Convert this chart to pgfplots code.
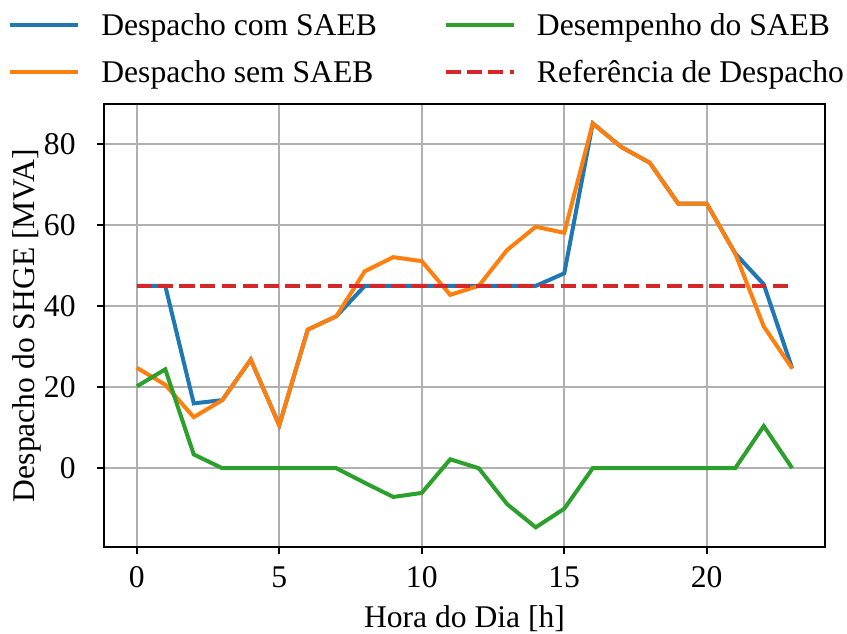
\documentclass[border=0pt]{standalone}
\usepackage{fontspec}
\setmainfont{Liberation Serif}
\usepackage{pgfplots}
\usepackage{pgfplotstable}
\pgfplotsset{compat=1.18}
\definecolor{cblue}{HTML}{1F77B4}
\definecolor{corange}{HTML}{FF7F0E}
\definecolor{cgreen}{HTML}{2CA02C}
\definecolor{cred}{HTML}{D62728}
\definecolor{cgrid}{HTML}{B0B0B0}

\pgfplotstableread{
h com sem des ref
0 45.0 24.8 20.2 45
1 45.0 20.6 24.4 45
2 16.0 12.6 3.4 45
3 16.8 16.8 0 45
4 26.8 26.8 0 45
5 10.6 10.6 0 45
6 34.2 34.2 0 45
7 37.5 37.5 0 45
8 45.0 48.6 -3.6 45
9 45.0 52.1 -7.1 45
10 45.0 51.1 -6.1 45
11 45.0 42.8 2.2 45
12 45.0 45.0 0 45
13 45.0 53.9 -8.9 45
14 45.0 59.6 -14.6 45
15 48.1 58.1 -10.0 45
16 85.1 85.1 0 45
17 79.3 79.3 0 45
18 75.4 75.4 0 45
19 65.3 65.3 0 45
20 65.3 65.3 0 45
21 53.0 53.0 0 45
22 45.4 35.0 10.4 45
23 24.6 24.6 0 45
}\data

\begin{document}
\fontsize{15.8}{19}\selectfont
\begin{tikzpicture}
\useasboundingbox (-52pt,-43pt) rectangle (371.5pt,273.5pt);
\begin{axis}[
  at={(0pt,0pt)}, anchor=south west,
  scale only axis, width=360.5pt, height=221.5pt,
  xmin=-1.15, xmax=24.15, ymin=-19.45, ymax=89.9,
  xtick={0,5,10,15,20}, ytick={0,20,40,60,80},
  /pgf/number format/assume math mode=true,
  tick align=outside, major tick length=3.5pt,
  tick style={black, line width=0.8pt},
  xtick pos=bottom, ytick pos=left,
  axis line style={black, line width=1pt},
  grid=major, major grid style={cgrid, line width=1pt},
  xticklabel style={inner sep=0pt, anchor=north, yshift=-6pt},
  yticklabel style={inner sep=0pt, anchor=east, xshift=-10.5pt},
  xlabel={Hora do Dia [h]},
  ylabel={Despacho do SHGE [MVA]},
  xlabel style={at={(axis description cs:0.5,0)}, anchor=base, yshift=-40pt, inner sep=0pt},
  ylabel style={at={(axis description cs:0,0.5)}, anchor=base, yshift=34.5pt, inner sep=0pt},
  legend columns=2,
  legend image code/.code={\draw[#1] (0pt,0pt) -- (34pt,0pt);},
  legend style={draw=none, fill=none, inner sep=0pt, at={(-0.1332,1.2099)}, anchor=north west,
    cells={anchor=west}, column sep=10.5pt, row sep=9.8pt,
    /tikz/every even column/.append style={column sep=33.5pt},
    nodes={inner sep=0pt, text height=12pt, text depth=1.6pt}},
]
\addlegendimage{cblue, line width=2pt}
\addlegendentry{Despacho com SAEB}
\addlegendimage{cgreen, line width=2pt}
\addlegendentry{Desempenho do SAEB}
\addlegendimage{corange, line width=2pt}
\addlegendentry{Despacho sem SAEB}
\addlegendimage{cred, line width=2pt, dash pattern=on 7.4pt off 3.2pt}
\addlegendentry{Referência de Despacho}
\addplot[cblue, line width=2pt, forget plot] table[x=h, y=com] {\data};
\addplot[corange, line width=2pt, forget plot] table[x=h, y=sem] {\data};
\addplot[cgreen, line width=2pt, forget plot] table[x=h, y=des] {\data};
\addplot[cred, line width=2pt, dash pattern=on 7.4pt off 3.2pt, forget plot] table[x=h, y=ref] {\data};
\end{axis}
\end{tikzpicture}
\end{document}
